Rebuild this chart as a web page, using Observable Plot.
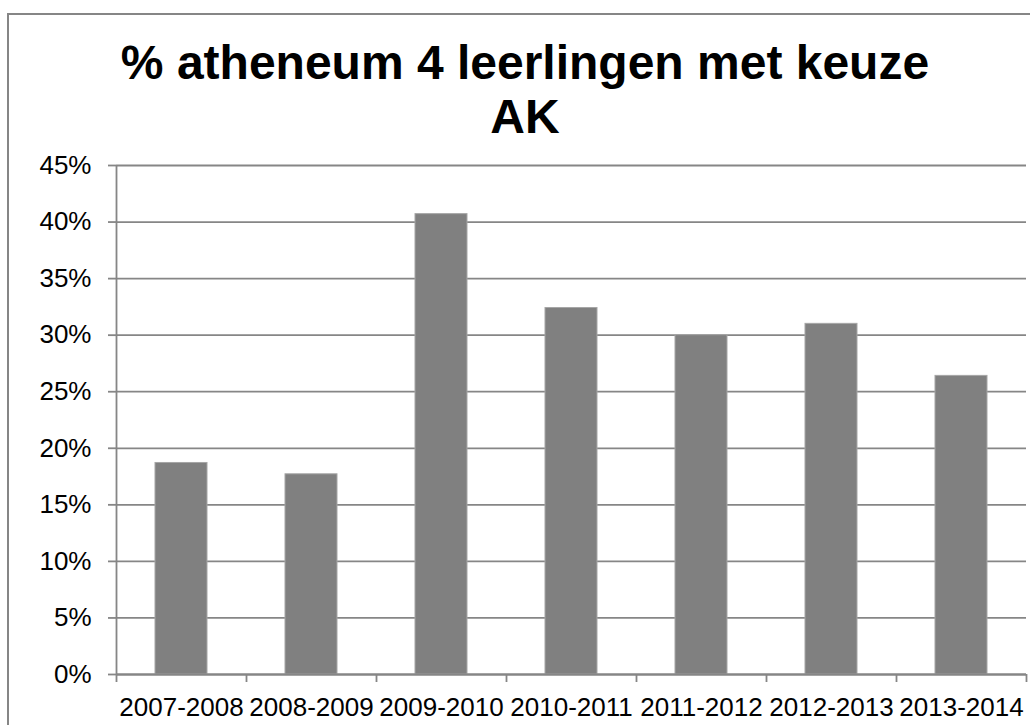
<!DOCTYPE html>
<html>
<head>
<meta charset="utf-8">
<script src="https://cdn.jsdelivr.net/npm/d3@7"></script>
<script src="https://cdn.jsdelivr.net/npm/@observablehq/plot@0.6"></script>
<style>
  html, body { margin: 0; padding: 0; background: white; width: 1030px; height: 725px; overflow: hidden; }
  body { position: relative; font-family: "Liberation Sans", Arial, sans-serif; }
  #frame { position: absolute; left: 7px; top: 13px; width: 1100px; height: 800px; border: 2px solid #868686; box-sizing: border-box; }
  #title { position: absolute; left: 20px; width: 1010px; top: 36px; text-align: center; font-size: 48px; font-weight: bold; line-height: 54px; color: black; }
  #chart { position: absolute; left: 0; top: 150px; }
</style>
</head>
<body>
<div id="frame"></div>
<div id="title">% atheneum 4 leerlingen met keuze<br>AK</div>
<div id="chart"></div>
<script>
const years = ["2007-2008", "2008-2009", "2009-2010", "2010-2011", "2011-2012", "2012-2013", "2013-2014"];
const values = [0.187, 0.177, 0.407, 0.324, 0.300, 0.310, 0.264];
const yTicks = [0, 0.05, 0.10, 0.15, 0.20, 0.25, 0.30, 0.35, 0.40, 0.45];

const data = years.map((year, i) => ({i, year, value: values[i]}));
const boundaries = d3.range(years.length + 1);
const gray = "#868686";

const chart = Plot.plot({
  width: 1030,
  height: 575,
  marginLeft: 116,
  marginRight: 4,
  marginTop: 15,
  marginBottom: 51,
  x: {domain: [0, years.length], axis: null},
  y: {domain: [0, 0.45], axis: null},
  style: {fontFamily: "'Liberation Sans', Arial, sans-serif", fontSize: "26px", color: "black", background: "transparent", overflow: "visible"},
  marks: [
    Plot.gridY(yTicks, {stroke: gray, strokeOpacity: 1, strokeWidth: 1.8}),
    Plot.axisY({ticks: yTicks, tickSize: 8, tickPadding: 17, tickFormat: d3.format(".0%"), label: null, stroke: gray, strokeWidth: 1.8, fill: "black", fontSize: 26}),
    Plot.ruleX([0], {y1: 0, y2: 0.45, stroke: gray, strokeWidth: 1.8}),
    Plot.rectY(data, {x1: d => d.i + 0.3, x2: d => d.i + 0.7, y: "value", fill: "#808080", stroke: "#a6a6a6", strokeWidth: 1}),
    Plot.ruleY([0], {stroke: gray, strokeWidth: 1.8}),
    Plot.axisX({ticks: boundaries, tickSize: 8, tickFormat: () => "", label: null, stroke: gray, strokeWidth: 1.8}),
    Plot.text(data, {x: d => d.i + 0.5, y: 0, text: "year", lineAnchor: "top", dy: 23, fill: "black", fontSize: 26})
  ]
});
document.getElementById("chart").appendChild(chart);
</script>
</body>
</html>
